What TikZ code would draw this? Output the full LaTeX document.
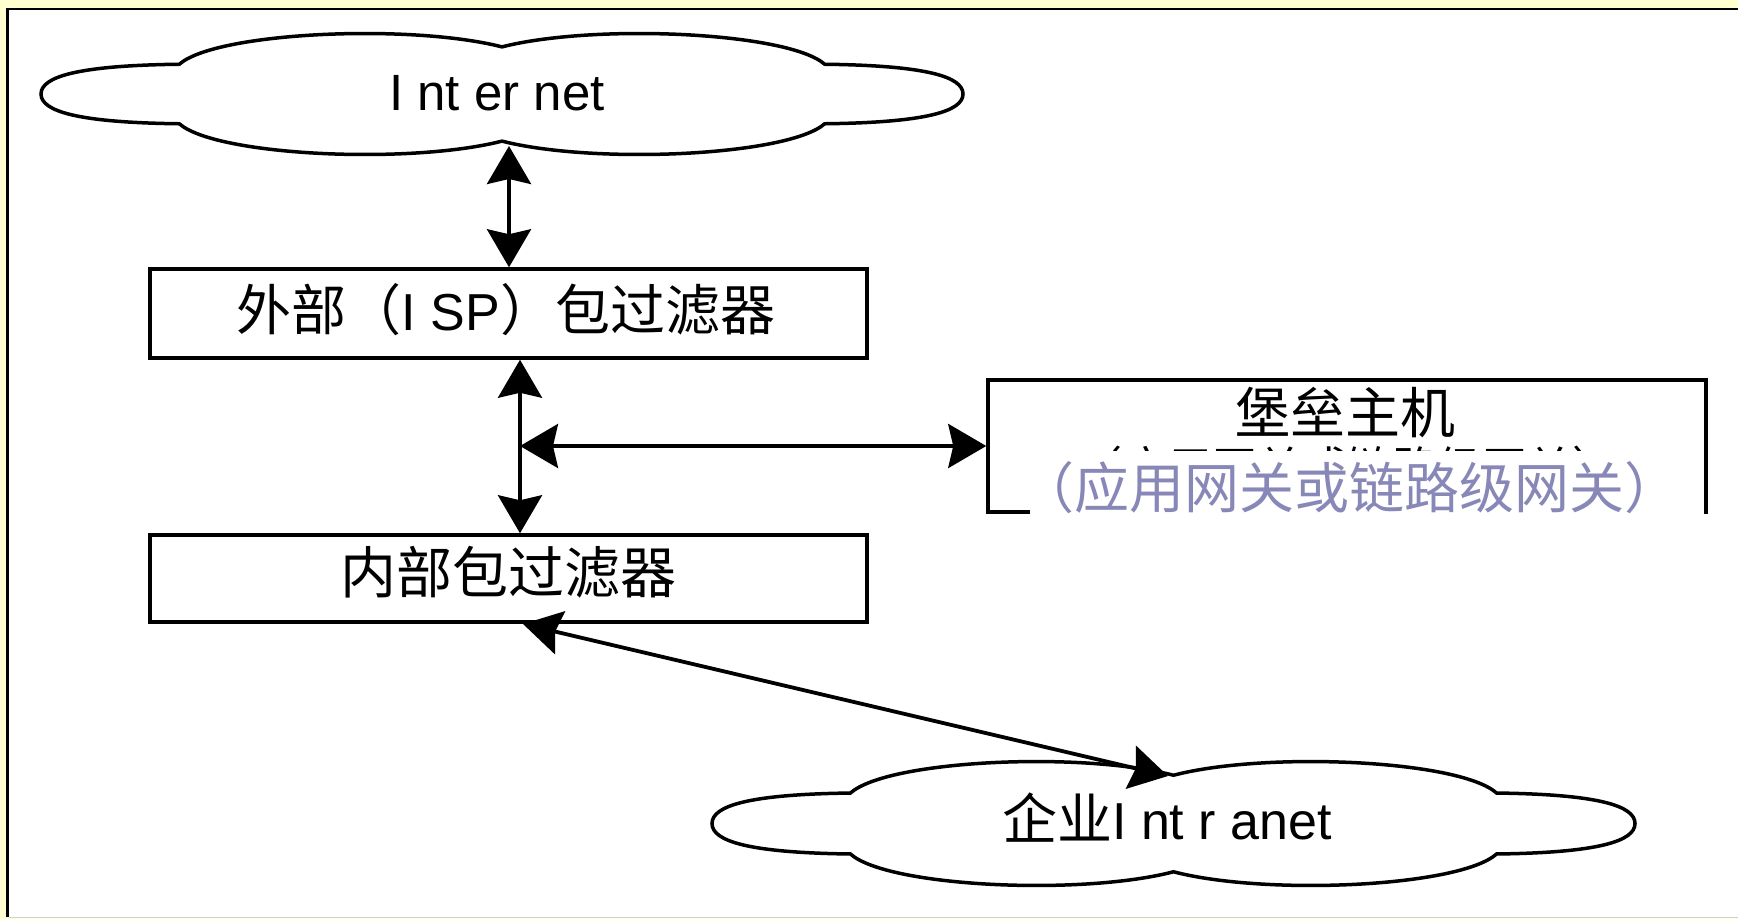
\documentclass[tikz,border=0pt]{standalone}
\usepackage{fontspec}
\setmainfont{Liberation Sans}
\newfontfamily\cjk{Noto Sans CJK SC}
\usetikzlibrary{arrows.meta}
\definecolor{bgyellow}{RGB}{255,255,208}
\definecolor{bluegray}{RGB}{136,136,184}
\tikzset{
  boxnode/.style={draw, line width=3.5pt, inner sep=0pt},
  cloudline/.style={line width=3.5pt},
  dbl/.style={line width=3.8pt, arrows={Stealth[length=38pt,width=44pt,inset=5pt]-Stealth[length=38pt,width=44pt,inset=5pt]}},
  lbl/.style={anchor=base, inner sep=0pt},
}
\newcommand{\mycloud}[4]{%
  \begin{scope}[shift={(#1,#2)}, x=#3pt, y=-#4pt]
    \draw[cloudline] (0.15,0.26) .. controls (0.19,0.0) and (0.40,-0.07) .. (0.5,0.12)
      .. controls (0.60,-0.07) and (0.81,0.0) .. (0.85,0.26)
      .. controls (0.96,0.27) and (1,0.36) .. (1,0.5)
      .. controls (1,0.64) and (0.96,0.73) .. (0.85,0.74)
      .. controls (0.81,1.0) and (0.60,1.07) .. (0.5,0.88)
      .. controls (0.40,1.07) and (0.19,1.0) .. (0.15,0.74)
      .. controls (0.04,0.73) and (0,0.64) .. (0,0.5)
      .. controls (0,0.36) and (0.04,0.27) .. cycle;
  \end{scope}}
\begin{document}
\begin{tikzpicture}[x=1pt,y=-1pt]
\useasboundingbox (0,0) rectangle (1738,919);
\fill[bgyellow] (0,0) rectangle (1738,919);
\fill[white] (7,9) rectangle (1738,917);
\draw[line width=2.5pt] (5.5,9) -- (1738,9);
\draw[line width=3pt] (7,9) -- (7,917);
\draw[gray!35, line width=1.5pt] (8.5,917.5) -- (1738,917.5);

% clouds
\mycloud{41}{32}{922}{124}
\mycloud{712}{760}{923}{127}

% boxes
\node[boxnode, minimum width=717pt, minimum height=89pt] (box1) at (508.5,313.5) {};
\node[boxnode, minimum width=717pt, minimum height=87pt] (box3) at (508.5,578.5) {};
\node[boxnode, minimum width=718pt, minimum height=132pt] (bastion) at (1347,446) {};

% texts
\node[lbl, font=\fontsize{51}{61}\selectfont] (inet) at (497,110) {I nt er net};
\node[lbl, font=\fontsize{52}{62}\selectfont] (t1) at (506,330) {{\fontsize{55}{65}\selectfont\cjk 外部（}I SP{\fontsize{55}{65}\selectfont\cjk ）包过滤器}};
\node[lbl, font=\fontsize{56}{66}\selectfont] (t3) at (508,593) {\cjk 内部包过滤器};
\node[lbl, font=\fontsize{55}{65}\selectfont] (tb) at (1345,433) {\cjk 堡垒主机};
\node[lbl, font=\fontsize{45}{55}\selectfont] (tbhid) at (1347,484) {\cjk （应用网关或链路级网关）};
\fill[white] (1030,451) rectangle (1704,525);
\node[lbl, font=\fontsize{55}{65}\selectfont, text=bluegray] (tbblue) at (1349,508) {\cjk （应用网关或链路级网关）};
\node[lbl, font=\fontsize{52}{62}\selectfont] (intra) at (1167,839) {{\fontsize{55}{65}\selectfont\cjk 企业}I nt r anet};

% connectors
\coordinate (j) at (520,446);
\coordinate (inetdip) at (509,146);
\coordinate (b3out) at (523,624);
\coordinate (intradip) at (1168,776);
\draw[dbl] (inetdip) -- (inetdip |- box1.north);
\draw[dbl] (box1.south -| j) -- (box3.north -| j);
\draw[dbl] (j) -- (bastion.west);
\draw[dbl] (b3out) -- (intradip);
\end{tikzpicture}
\end{document}
